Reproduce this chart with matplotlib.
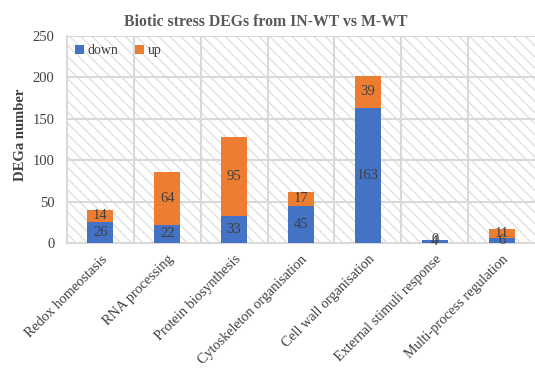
import matplotlib
matplotlib.use("Agg")
import matplotlib.pyplot as plt
from matplotlib.patches import Rectangle
import numpy as np

categories = ["Redox homeostasis", "RNA processing", "Protein biosynthesis",
              "Cytoskeleton organisation", "Cell wall organisation",
              "External stimuli response", "Multi-process regulation"]
down = [26, 22, 33, 45, 163, 4, 6]
up = [14, 64, 95, 17, 39, 0, 11]
yticks = [0, 50, 100, 150, 200, 250]

plt.rcParams['font.family'] = ['Liberation Serif', 'DejaVu Serif']
plt.rcParams['hatch.linewidth'] = 0.8
plt.rcParams['hatch.color'] = '#dadada'

fig = plt.figure(figsize=(5.35, 3.74), dpi=100)
ax = fig.add_axes([0.125, 0.35, 0.875, 0.554])

x = np.arange(len(categories))
ax.set_xlim(-0.5, len(categories) - 0.5)
ax.set_ylim(0, 250)

# hatched background
bg = Rectangle((0, 0), 1, 1, transform=ax.transAxes, facecolor='white',
               edgecolor='#dadada', hatch='\\\\\\', linewidth=0, zorder=0)
ax.add_patch(bg)

# gridlines
for yv in yticks[1:]:
    ax.axhline(yv, color='#d9d9d9', lw=1.5, zorder=1)
for xv in np.arange(0.5, len(categories) - 0.5, 1):
    ax.axvline(xv, color='#d9d9d9', lw=1.5, zorder=1)

w = 0.39
ax.bar(x, down, w, color='#4472C4', label='down', zorder=3)
ax.bar(x, up, w, bottom=down, color='#ED7D31', label='up', zorder=3)

for i in range(len(categories)):
    ax.text(x[i], down[i] / 2, str(down[i]), ha='center', va='center',
            fontsize=10.5, color='#404040', zorder=4)
    ax.text(x[i], down[i] + up[i] / 2, str(up[i]), ha='center', va='center',
            fontsize=10.5, color='#404040', zorder=4)

for s in ['top', 'right']:
    ax.spines[s].set_visible(False)
for s in ['left', 'bottom']:
    ax.spines[s].set_color('#d9d9d9')
    ax.spines[s].set_linewidth(1.5)

ax.set_yticks(yticks)
ax.set_yticklabels([str(v) for v in yticks], fontsize=10.5, color='#404040')
ax.set_xticks(x)
ax.set_xticklabels(categories, rotation=45, ha='right', rotation_mode='anchor',
                   fontsize=10.3, color='#404040')
ax.tick_params(axis='y', length=0, pad=9)
ax.tick_params(axis='x', length=0, pad=7)

fig.text(0.038, 0.639, 'DEGa number', rotation=90, ha='center', va='center',
         fontsize=10.5, fontweight='bold', color='#404040')
fig.text(0.497, 0.941, 'Biotic stress DEGs from IN-WT vs M-WT', ha='center', va='center',
         fontsize=11.3, fontweight='bold', color='#595959')

leg = ax.legend(loc='upper left', ncol=2, frameon=False, fontsize=10,
                handlelength=0.6, handleheight=0.6, handletextpad=0.3,
                columnspacing=1.2, borderaxespad=0.2, bbox_to_anchor=(0.0, 1.0))
for t in leg.get_texts():
    t.set_color('#404040')

fig.savefig('out.png', dpi=100)
